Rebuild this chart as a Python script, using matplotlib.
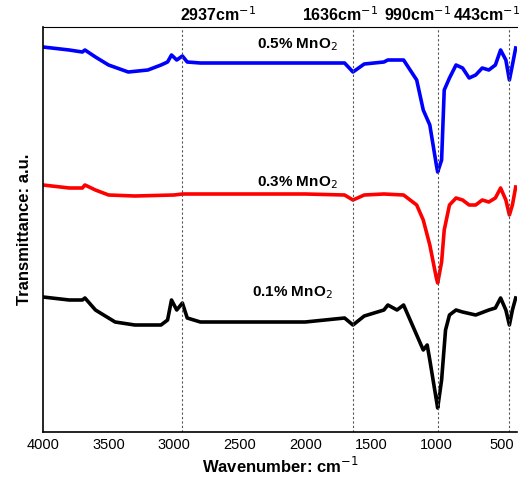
import matplotlib
matplotlib.use("Agg")
import matplotlib.pyplot as plt
import numpy as np

plt.rcParams['font.family'] = ['Liberation Sans', 'DejaVu Sans']

wn_b = [4000,3800,3700,3680,3600,3500,3350,3200,3100,3050,3020,2980,2937,2900,2800,2000,1700,1636,1550,1400,1370,1250,1150,1100,1050,1000,990,960,940,900,850,800,750,700,650,600,550,510,470,443,420,395]
blue = [47,50,52,50,57,65,72,70,65,62,55,60,56,62,63,63,63,72,64,62,60,60,80,110,125,165,172,160,90,78,65,68,78,75,68,70,65,50,60,80,65,48]
wn_r = [4000,3800,3700,3680,3600,3500,3300,3000,2937,2000,1700,1636,1550,1400,1250,1150,1100,1050,1000,990,960,940,900,850,800,750,700,650,600,550,510,470,443,420,395]
red = [185,188,188,185,190,195,196,195,194,194,195,200,195,194,195,205,220,245,278,283,262,230,205,198,200,205,205,200,202,198,188,200,215,205,187]
wn_k = [4000,3800,3700,3680,3600,3450,3300,3100,3050,3020,2980,2937,2900,2800,2000,1700,1636,1550,1400,1370,1300,1250,1200,1100,1070,1050,1000,990,960,930,900,850,800,700,600,550,510,470,443,420,395]
black = [297,300,300,298,310,322,325,325,320,300,310,303,318,322,322,318,325,316,310,305,310,305,320,350,345,360,400,408,380,330,315,310,312,315,310,308,298,310,325,310,298]
marks = [2937,1636,990,443]
mark_labels = ['2937', '1636', '990', '443']
series_labels = ['0.5% MnO$_2$', '0.3% MnO$_2$', '0.1% MnO$_2$']

W, H = 520, 478
fig = plt.figure(figsize=(5.2, 4.78), dpi=100)
ax = fig.add_axes([43/W, 1-432/H, (517-43)/W, (432-27)/H])
ax.plot(wn_b, blue, color='#0000ff', lw=2.6)
ax.plot(wn_r, red, color='#ff0000', lw=2.6)
ax.plot(wn_k, black, color='black', lw=2.6)
for m in marks:
    ax.axvline(m, color='#555555', lw=0.8, ls=(0, (2, 2)))
ax.set_xlim(4000, 385)
ax.set_ylim(432, 27)
ax.set_xticks([4000,3500,3000,2500,2000,1500,1000,500])
ax.tick_params(axis='x', length=0, labelsize=10.5, pad=4)
ax.set_yticks([])
ax.spines['right'].set_visible(False)
for s in ['left','bottom','top']:
    ax.spines[s].set_linewidth(1.2)
ax.spines['top'].set_linewidth(0.8)
ax.set_xlabel('Wavenumber: cm$^{-1}$', fontsize=12, fontweight='bold', labelpad=3)
ax.set_ylabel('Transmittance: a.u.', fontsize=12, fontweight='bold', labelpad=8)
for lab, xc in zip(mark_labels, [218, 340, 418, 487]):
    fig.text(xc/W, 1-15/H, lab + 'cm$^{-1}$', ha='center', va='center', fontsize=11.5, fontweight='bold')
for lab, xc, yc in zip(series_labels, [297, 297, 292], [45, 183, 293]):
    fig.text(xc/W, 1-yc/H, lab, ha='center', va='center', fontsize=11, fontweight='bold')
fig.savefig('out.png', dpi=100)
